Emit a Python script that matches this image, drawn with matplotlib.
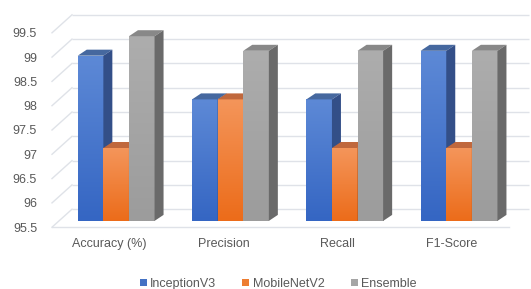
import numpy as np
import matplotlib
matplotlib.use("Agg")
import matplotlib.pyplot as plt
from matplotlib.patches import Polygon, Patch
from matplotlib.colors import LinearSegmentedColormap

# ---- data ----
categories = ["Accuracy (%)", "Precision", "Recall", "F1-Score"]
series_names = ["InceptionV3", "MobileNetV2", "Ensemble"]
inception = [98.9, 98.0, 98.0, 99.0]
mobilenet = [97.0, 98.0, 97.0, 97.0]
ensemble = [99.3, 99.0, 99.0, 99.0]
yticks = [95.5, 96, 96.5, 97, 97.5, 98, 98.5, 99, 99.5]

series_values = [inception, mobilenet, ensemble]

# ---- styles ----
front_top = ["#5d89d6", "#f4955a", "#adadad"]
front_bot = ["#3566c3", "#ec6c1a", "#9c9c9c"]
top_col = ["#46689f", "#c0683d", "#888888"]
side_col = ["#334f88", "#a8531c", "#6a6a6a"]
legend_col = ["#4472c4", "#ed7d31", "#a5a5a5"]
grid_col = "#dfe2e8"
text_col = "#595959"

plt.rcParams['font.family'] = ['Liberation Sans', 'DejaVu Sans']

W, H, DPI = 531, 289, 100
fig = plt.figure(figsize=(W / DPI, H / DPI), dpi=DPI)

px_x = 114.3  # px per category unit
px_y = 48.6   # px per value unit
ax_left, ax_bottom = 52, 289 - 227.2
ax_w, ax_h = W - ax_left, H - ax_bottom
ax = fig.add_axes([ax_left / W, ax_bottom / H, ax_w / W, ax_h / H])
x0 = -0.5
ymin = yticks[0]
ax.set_xlim(x0, x0 + ax_w / px_x)
ax.set_ylim(ymin, ymin + ax_h / px_y)
for s in ax.spines.values():
    s.set_visible(False)
ax.set_facecolor("none")

def dx(p):
    return p / px_x

def dy(p):
    return p / px_y

# walls
wall_dx, wall_dy = dx(20), dy(18)
xr = len(categories) - 0.5
for v in yticks:
    ax.plot([x0 + wall_dx, xr + wall_dx], [v + wall_dy, v + wall_dy],
            color=grid_col, lw=1.0, zorder=1, clip_on=False, solid_capstyle='butt')
    ax.plot([x0, x0 + wall_dx], [v, v + wall_dy], color=grid_col, lw=1.0,
            zorder=1, clip_on=False)
ax.plot([x0, xr], [ymin, ymin], color=grid_col, lw=1.0, zorder=1, clip_on=False)

# bars
bw = dx(25.6)
off_x, off_y = dx(7), dy(6.3)
dep_x, dep_y = dx(9), dy(6)
xs = np.arange(len(categories))
z = 3
for i in range(len(categories)):
    for j, vals in enumerate(series_values):
        L = xs[i] + off_x + (j - 1.5) * bw
        B = ymin + off_y
        T = vals[i] + off_y
        bars = ax.bar([L], [T - B], bottom=B, width=bw, align='edge',
                      color=front_bot[j], zorder=z, linewidth=0)
        cmap = LinearSegmentedColormap.from_list("g", [front_top[j], front_bot[j]])
        grad = np.linspace(0, 1, 64).reshape(-1, 1)
        im = ax.imshow(grad, cmap=cmap, extent=[L, L + bw, B, T], aspect='auto',
                       origin='upper', zorder=z + 0.1, interpolation='bilinear')
        im.set_clip_path(bars.patches[0])
        top = Polygon([(L, T), (L + bw, T), (L + bw + dep_x, T + dep_y), (L + dep_x, T + dep_y)],
                      closed=True, facecolor=top_col[j], edgecolor='none', zorder=z + 0.2)
        side = Polygon([(L + bw, B), (L + bw + dep_x, B + dep_y), (L + bw + dep_x, T + dep_y), (L + bw, T)],
                       closed=True, facecolor=side_col[j], edgecolor='none', zorder=z + 0.2)
        ax.add_patch(top)
        ax.add_patch(side)
        z += 1

ax.set_xlim(x0, x0 + ax_w / px_x)
ax.set_ylim(ymin, ymin + ax_h / px_y)

ax.set_yticks(yticks)
ax.set_yticklabels([f"{v:g}" for v in yticks])
ax.set_xticks(xs)
ax.set_xticklabels(categories)
ax.tick_params(axis='y', length=0, pad=10.8, labelsize=9, labelcolor=text_col)
ax.tick_params(axis='x', length=0, pad=7.6, labelsize=9, labelcolor=text_col)

handles = [Patch(facecolor=c, edgecolor='none') for c in legend_col]
fig.legend(handles, series_names, loc='center', bbox_to_anchor=(278 / W, 1 - 284 / H),
           ncol=3, frameon=False, fontsize=9, labelcolor=text_col,
           handlelength=0.56, handleheight=0.56, handletextpad=0.25, columnspacing=2.1,
           borderpad=0, borderaxespad=0)

fig.savefig("out.png", dpi=DPI)
